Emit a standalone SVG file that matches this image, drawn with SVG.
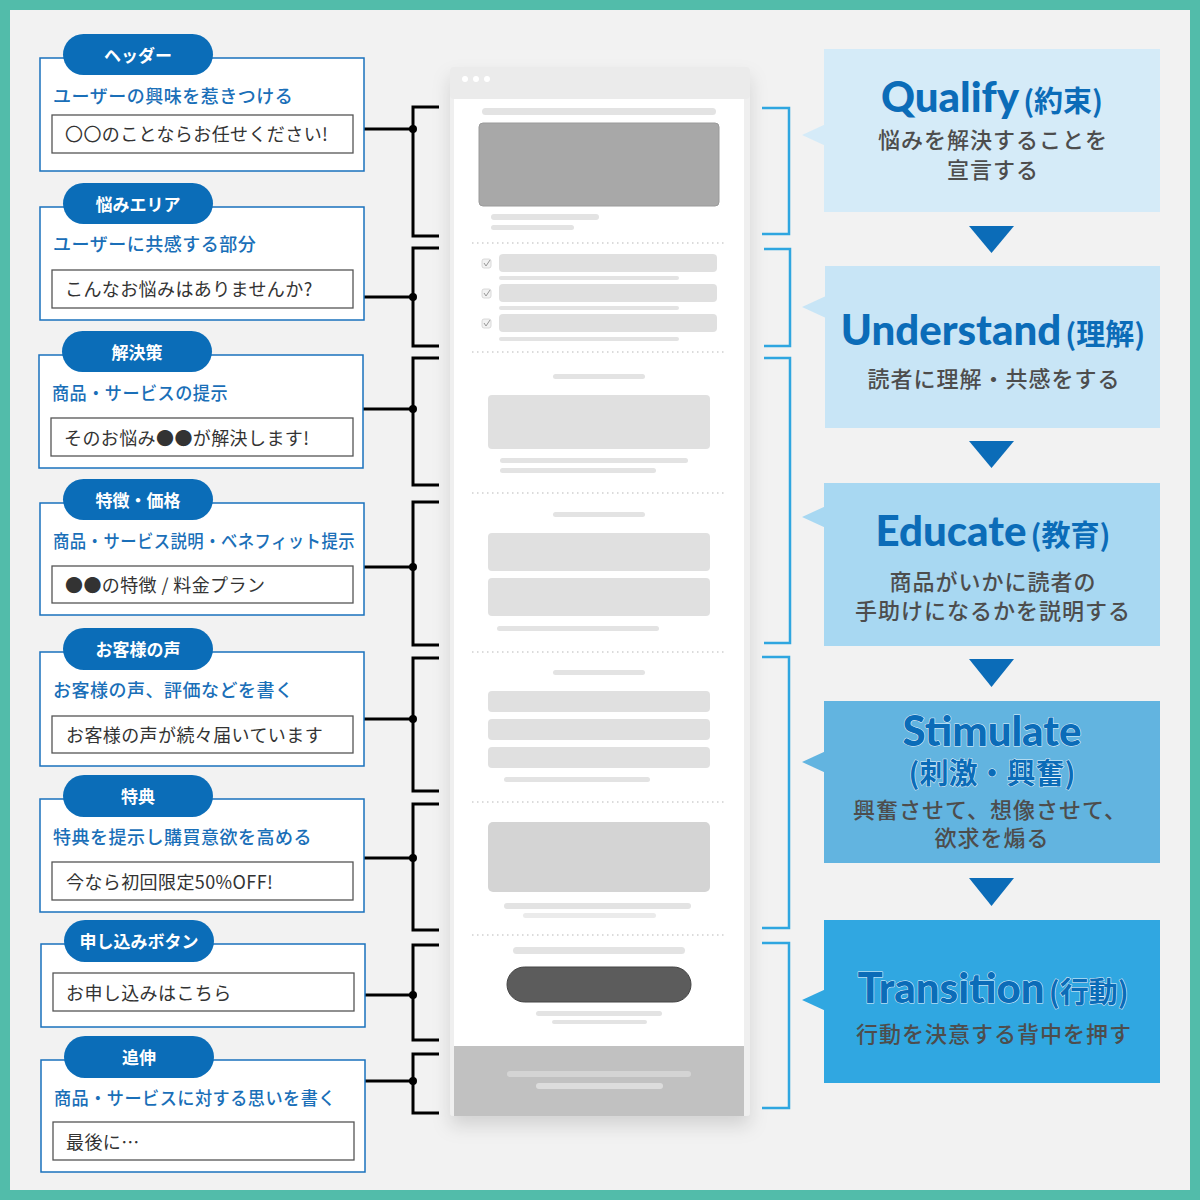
<svg xmlns="http://www.w3.org/2000/svg" width="1200" height="1200" viewBox="0 0 1200 1200">
<defs>
<style>
.obox{fill:#fff;stroke:#1a72bd;stroke-width:1.5}
.pill{fill:#0b6db8}
.pilltxt{font-family:"Noto Sans CJK JP",sans-serif;font-size:17px;font-weight:700;fill:#fff;text-anchor:middle}
.sub{font-family:"Noto Sans CJK JP",sans-serif;font-size:18px;font-weight:500;fill:#1a6fb8;letter-spacing:0.5px}
.ibox{fill:#fff;stroke:#555;stroke-width:1.3}
.itxt{font-family:"Noto Sans CJK JP",sans-serif;font-size:18px;fill:#333;letter-spacing:0.4px}
.conn{fill:none;stroke:#000;stroke-width:3}
.dot{fill:#000}
.bbr{fill:none;stroke:#2fa6e0;stroke-width:2.5}
.en{font-family:Lato,"Open Sans",sans-serif;font-weight:900;font-size:42px;fill:#0b6cb8}
.jt{font-family:"Noto Sans CJK JP",sans-serif;font-weight:700;font-size:29px;fill:#0b6cb8}
.ttl{text-anchor:middle}
.out{stroke:#e8f4fb;stroke-width:1;paint-order:stroke;stroke-linejoin:round}
.rs{font-family:"Noto Sans CJK JP",sans-serif;font-size:22px;font-weight:500;fill:#4d4d4d;text-anchor:middle;letter-spacing:1px}
.arr{fill:#0b6cb8}
.g1{fill:#e3e3e3}
.g2{fill:#e0e0e0}
.sep{stroke:#cfcfcf;stroke-width:1.5;stroke-dasharray:1.5 3.5}
</style>
<filter id="sh" x="-20%" y="-10%" width="140%" height="120%">
<feDropShadow dx="0" dy="10" stdDeviation="9" flood-color="#000" flood-opacity="0.13"/>
</filter>
</defs>
<rect x="0" y="0" width="1200" height="1200" fill="#52bcaa"/>
<rect x="10" y="10" width="1180" height="1180" fill="#f2f2f2"/>

<!-- wireframe -->
<g id="wireframe">
<rect x="450" y="67" width="300" height="1049" rx="4" fill="#efefef" filter="url(#sh)"/>
<rect x="450" y="67" width="300" height="32" rx="4" fill="#ebebeb"/>
<rect x="454" y="99" width="290" height="947" fill="#fff"/>
<rect x="454" y="1046" width="290" height="70" fill="#c1c1c1"/>
<circle cx="465" cy="79" r="3" fill="#fff"/>
<circle cx="476" cy="79" r="3" fill="#fff"/>
<circle cx="487" cy="79" r="3" fill="#fff"/>
<rect class="g1" x="482" y="108" width="234" height="7" rx="3.5"/>
<rect x="479" y="123" width="240" height="83" rx="4" fill="#a8a8a8" stroke="#9a9a9a" stroke-width="1"/>
<rect class="g1" x="491" y="214" width="108" height="6" rx="3"/>
<rect class="g1" x="491" y="225" width="83" height="5" rx="2.5"/>
<line class="sep" x1="472" y1="243" x2="726" y2="243"/>
<g fill="#f2f2f2" stroke="#d0d0d0" stroke-width="0.8">
<rect x="482" y="259" width="9" height="9" rx="2"/>
<rect x="482" y="289" width="9" height="9" rx="2"/>
<rect x="482" y="319" width="9" height="9" rx="2"/>
</g>
<g fill="none" stroke="#999" stroke-width="1">
<path d="M484,263 L486,266 L490,260"/>
<path d="M484,293 L486,296 L490,290"/>
<path d="M484,323 L486,326 L490,320"/>
</g>
<rect class="g2" x="499" y="254" width="218" height="18" rx="4"/>
<rect class="g1" x="499" y="276" width="180" height="4" rx="2"/>
<rect class="g2" x="499" y="284" width="218" height="18" rx="4"/>
<rect class="g1" x="499" y="306" width="180" height="4" rx="2"/>
<rect class="g2" x="499" y="314" width="218" height="18" rx="4"/>
<rect class="g1" x="499" y="337" width="180" height="4" rx="2"/>
<line class="sep" x1="472" y1="352" x2="726" y2="352"/>
<rect class="g1" x="553" y="374" width="92" height="5" rx="2.5"/>
<rect class="g2" x="488" y="395" width="222" height="54" rx="4"/>
<rect class="g1" x="500" y="458" width="188" height="5" rx="2.5"/>
<rect class="g1" x="500" y="468" width="156" height="5" rx="2.5"/>
<line class="sep" x1="472" y1="493" x2="726" y2="493"/>
<rect class="g1" x="553" y="512" width="92" height="5" rx="2.5"/>
<rect class="g2" x="488" y="533" width="222" height="38" rx="4"/>
<rect class="g2" x="488" y="578" width="222" height="38" rx="4"/>
<rect class="g1" x="497" y="626" width="162" height="5" rx="2.5"/>
<line class="sep" x1="472" y1="652" x2="726" y2="652"/>
<rect class="g1" x="553" y="670" width="92" height="5" rx="2.5"/>
<rect class="g2" x="488" y="691" width="222" height="21" rx="4"/>
<rect class="g2" x="488" y="719" width="222" height="21" rx="4"/>
<rect class="g2" x="488" y="747" width="222" height="21" rx="4"/>
<rect class="g1" x="504" y="777" width="146" height="5" rx="2.5"/>
<line class="sep" x1="472" y1="802" x2="726" y2="802"/>
<rect x="488" y="822" width="222" height="70" rx="5" fill="#d4d4d4"/>
<rect class="g1" x="504" y="903" width="187" height="6" rx="3"/>
<rect x="523" y="913" width="133" height="5" rx="2.5" fill="#ebebeb"/>
<line class="sep" x1="472" y1="935" x2="726" y2="935"/>
<rect class="g1" x="513" y="947" width="172" height="7" rx="3.5"/>
<rect x="507" y="967" width="184" height="35" rx="17.5" fill="#5c5c5c" stroke="#444" stroke-width="1"/>
<rect class="g1" x="536" y="1011" width="126" height="5" rx="2.5"/>
<rect class="g1" x="552" y="1020" width="95" height="4" rx="2"/>
<rect x="507" y="1071" width="184" height="6" rx="3" fill="#d4d4d4"/>
<rect x="536" y="1083" width="127" height="6" rx="3" fill="#dcdcdc"/>
</g>

<!-- connectors -->
<g id="connectors">
<path class="conn" d="M364,129 H413"/><path class="conn" d="M439,107 H413 V236 H439"/><circle class="dot" cx="413" cy="129" r="4"/>
<path class="conn" d="M364,297 H413"/><path class="conn" d="M439,248 H413 V346 H439"/><circle class="dot" cx="413" cy="297" r="4"/>
<path class="conn" d="M363,409 H413"/><path class="conn" d="M439,358 H413 V485 H439"/><circle class="dot" cx="413" cy="409" r="4"/>
<path class="conn" d="M364,567 H413"/><path class="conn" d="M439,502 H413 V645 H439"/><circle class="dot" cx="413" cy="567" r="4"/>
<path class="conn" d="M364,719 H413"/><path class="conn" d="M439,658 H413 V791 H439"/><circle class="dot" cx="413" cy="719" r="4"/>
<path class="conn" d="M364,858 H413"/><path class="conn" d="M439,804 H413 V930 H439"/><circle class="dot" cx="413" cy="858" r="4"/>
<path class="conn" d="M365,995 H413"/><path class="conn" d="M439,945 H413 V1040 H439"/><circle class="dot" cx="413" cy="995" r="4"/>
<path class="conn" d="M365,1081 H413"/><path class="conn" d="M439,1054 H413 V1113 H439"/><circle class="dot" cx="413" cy="1081" r="4"/>
<path class="bbr" d="M762,108 H789 V234 H762"/>
<path class="bbr" d="M764,249 H790 V346 H764"/>
<path class="bbr" d="M764,358 H790 V643 H764"/>
<path class="bbr" d="M762,657 H789 V928 H762"/>
<path class="bbr" d="M762,943 H789 V1108 H762"/>
<polygon class="arr" points="969,226 1014,226 991.5,253"/>
<polygon class="arr" points="969,441 1014,441 991.5,468"/>
<polygon class="arr" points="969,659 1014,659 991.5,687"/>
<polygon class="arr" points="969,878 1014,878 991.5,906"/>
</g>

<!-- left nodes -->
<g id="node-header">
<rect class="obox" x="40" y="58" width="324" height="113"/>
<rect class="pill" x="63" y="34" width="150" height="41" rx="20.5"/>
<text class="pilltxt" x="138" y="62">ヘッダー</text>
<text class="sub" x="53" y="103">ユーザーの興味を惹きつける</text>
<rect class="ibox" x="52" y="115" width="301" height="38"/>
<text class="itxt" x="65" y="141">〇〇のことならお任せください!</text>
</g>
<g id="node-nayami">
<rect class="obox" x="40" y="207" width="324" height="113"/>
<rect class="pill" x="63" y="183" width="150" height="41" rx="20.5"/>
<text class="pilltxt" x="138" y="211">悩みエリア</text>
<text class="sub" x="53" y="251">ユーザーに共感する部分</text>
<rect class="ibox" x="52" y="270" width="301" height="38"/>
<text class="itxt" x="65" y="296">こんなお悩みはありませんか?</text>
</g>
<g id="node-kaiketsu">
<rect class="obox" x="39" y="355" width="324" height="113"/>
<rect class="pill" x="62" y="331" width="150" height="41" rx="20.5"/>
<text class="pilltxt" x="137" y="359">解決策</text>
<text class="sub" x="52" y="400" textLength="176" lengthAdjust="spacingAndGlyphs">商品・サービスの提示</text>
<rect class="ibox" x="51" y="418" width="302" height="38"/>
<text class="itxt" x="64" y="445">そのお悩み●●が解決します!</text>
</g>
<g id="node-tokucho">
<rect class="obox" x="40" y="503" width="324" height="112"/>
<rect class="pill" x="63" y="479" width="150" height="41" rx="20.5"/>
<text class="pilltxt" x="138" y="507">特徴・価格</text>
<text class="sub" x="53" y="548" textLength="302" lengthAdjust="spacingAndGlyphs">商品・サービス説明・ベネフィット提示</text>
<rect class="ibox" x="52" y="566" width="301" height="37"/>
<text class="itxt" x="65" y="592">●●の特徴 / 料金プラン</text>
</g>
<g id="node-koe">
<rect class="obox" x="40" y="652" width="324" height="114"/>
<rect class="pill" x="63" y="628" width="150" height="42" rx="21"/>
<text class="pilltxt" x="138" y="656">お客様の声</text>
<text class="sub" x="53" y="697">お客様の声、評価などを書く</text>
<rect class="ibox" x="52" y="716" width="301" height="37"/>
<text class="itxt" x="66" y="742">お客様の声が続々届いています</text>
</g>
<g id="node-tokuten">
<rect class="obox" x="40" y="799" width="324" height="113"/>
<rect class="pill" x="63" y="775" width="150" height="42" rx="21"/>
<text class="pilltxt" x="138" y="803">特典</text>
<text class="sub" x="53" y="844">特典を提示し購買意欲を高める</text>
<rect class="ibox" x="52" y="862" width="301" height="38"/>
<text class="itxt" x="66" y="889">今なら初回限定50%OFF!</text>
</g>
<g id="node-button">
<rect class="obox" x="41" y="944" width="324" height="83"/>
<rect class="pill" x="64" y="920" width="150" height="42" rx="21"/>
<text class="pilltxt" x="139" y="948">申し込みボタン</text>
<rect class="ibox" x="53" y="973" width="301" height="38"/>
<text class="itxt" x="66" y="1000">お申し込みはこちら</text>
</g>
<g id="node-tsuishin">
<rect class="obox" x="41" y="1060" width="324" height="112"/>
<rect class="pill" x="64" y="1036" width="150" height="42" rx="21"/>
<text class="pilltxt" x="139" y="1064">追伸</text>
<text class="sub" x="54" y="1105" textLength="282" lengthAdjust="spacingAndGlyphs">商品・サービスに対する思いを書く</text>
<rect class="ibox" x="53" y="1122" width="301" height="38"/>
<text class="itxt" x="66" y="1149">最後に…</text>
</g>

<!-- right nodes -->
<g id="node-qualify">
<polygon points="802,135 826,124 826,146" fill="#d5ebf8"/>
<rect x="824" y="49" width="336" height="163" fill="#d5ebf8"/>
<text class="ttl" x="992" y="112"><tspan class="en">Qualify</tspan><tspan class="jt" dx="4">(約束)</tspan></text>
<text class="rs" x="993" y="148">悩みを解決することを</text>
<text class="rs" x="993" y="178">宣言する</text>
</g>
<g id="node-understand">
<polygon points="802,307 826,296 826,318" fill="#c8e5f6"/>
<rect x="825" y="266" width="335" height="162" fill="#c8e5f6"/>
<text class="ttl" x="993" y="345"><tspan class="en">Understand</tspan><tspan class="jt" dx="4">(理解)</tspan></text>
<text class="rs" x="994" y="387">読者に理解・共感をする</text>
</g>
<g id="node-educate">
<polygon points="802,517 826,506 826,528" fill="#a8d8f2"/>
<rect x="824" y="483" width="336" height="163" fill="#a8d8f2"/>
<text class="ttl" x="993" y="546"><tspan class="en">Educate</tspan><tspan class="jt" dx="4">(教育)</tspan></text>
<text class="rs" x="993" y="590">商品がいかに読者の</text>
<text class="rs" x="993" y="619">手助けになるかを説明する</text>
</g>
<g id="node-stimulate">
<polygon points="802,762 826,751 826,773" fill="#62b4e0"/>
<rect x="824" y="701" width="336" height="162" fill="#62b4e0"/>
<text class="ttl en out" x="992" y="746">Stimulate</text>
<text class="ttl jt out" x="992" y="784">(刺激・興奮)</text>
<text class="rs" x="990" y="818">興奮させて、想像させて、</text>
<text class="rs" x="992" y="846">欲求を煽る</text>
</g>
<g id="node-transition">
<polygon points="802,1000 826,989 826,1011" fill="#30a7e1"/>
<rect x="824" y="920" width="336" height="163" fill="#30a7e1"/>
<text class="ttl out" x="993" y="1003"><tspan class="en">Transition</tspan><tspan class="jt" dx="4">(行動)</tspan></text>
<text class="rs" x="994" y="1042">行動を決意する背中を押す</text>
</g>
</svg>
